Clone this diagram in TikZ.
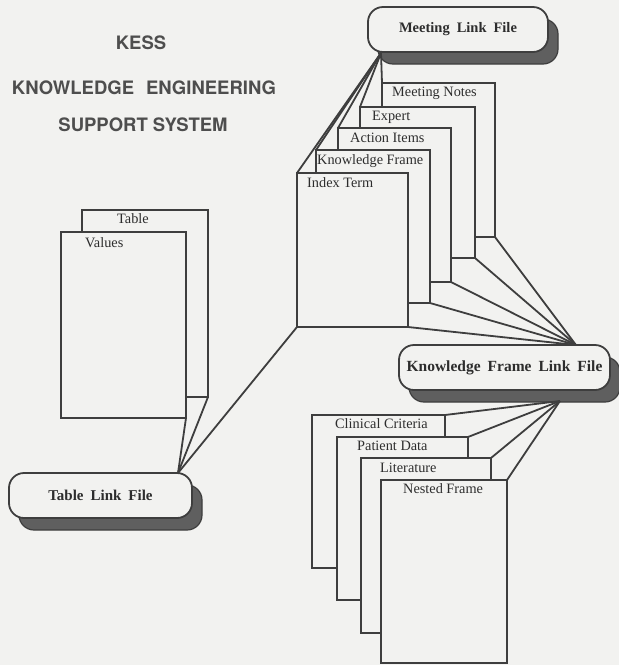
\documentclass[tikz,border=0pt]{standalone}
\usepackage{fontspec}
\setmainfont{Liberation Serif}
\newfontfamily\heros{TeX Gyre Heros}
\usetikzlibrary{shadows}
\definecolor{bg}{RGB}{242,242,240}
\definecolor{ink}{RGB}{62,62,62}
\definecolor{txt}{RGB}{45,45,45}
\definecolor{titlecol}{RGB}{78,78,78}
\definecolor{shade}{RGB}{95,95,95}
\begin{document}
\begin{tikzpicture}[x=1pt,y=-1pt,
  page/.style={draw=ink, fill=bg, line width=1.8pt, inner sep=0pt, outer sep=0pt, anchor=north west},
  plabel/.style={anchor=west, inner sep=0pt, text=txt, font=\fontsize{14.3}{16}\selectfont},
  linkbox/.style={draw=ink, fill=bg, line width=1.8pt, rounded corners=15pt, inner sep=0pt, outer sep=0pt,
    text=txt, minimum height=45pt,
    drop shadow={shadow xshift=10pt, shadow yshift=-12pt, fill=shade, draw=ink, opacity=1, line width=1.2pt}},
  boxfont/.style={font={\bfseries\fontsize{#1}{18}\selectfont\spaceskip=7pt plus 1pt\relax}},
  conn/.style={draw=ink, line width=1.8pt},
  title/.style={text=titlecol, font=\heros\bfseries\fontsize{18.5}{20}\selectfont, inner sep=0pt}
]
\useasboundingbox (0,0) rectangle (619,665);
\fill[bg] (0,0) rectangle (619,665);

% title
\node[title] (t1) at (141,43) {KESS};
\node[title] (t2) at (144,88) {KNOWLEDGE\hspace{12pt}ENGINEERING};
\node[title] (t3) at (143,125) {SUPPORT SYSTEM};

% meeting stack
\node[page, minimum width=113pt, minimum height=154pt] (mn) at (382,83) {};
\node[page, minimum width=115pt, minimum height=151pt] (ex) at (360,107) {};
\node[page, minimum width=113pt, minimum height=154pt] (ai) at (338,128) {};
\node[page, minimum width=114pt, minimum height=153pt] (kf) at (316,150) {};
\node[page, minimum width=111pt, minimum height=154pt] (it) at (297,173) {};
\node[plabel] (lmn) at (392,93) {Meeting Notes};
\node[plabel] (lex) at (372,117) {Expert};
\node[plabel] (lai) at (350,138) {Action Items};
\node[plabel] (lkf) at (317,161) {Knowledge Frame};
\node[plabel] (lit) at (307,183) {Index Term};

% table stack
\node[page, minimum width=126pt, minimum height=187pt] (tb) at (82,210) {};
\node[page, minimum width=125pt, minimum height=186pt] (vl) at (61,232) {};
\node[plabel] (ltb) at (117,219) {Table};
\node[plabel] (lvl) at (85,243) {Values};

% knowledge frame stack
\node[page, minimum width=133pt, minimum height=153pt] (cc) at (312,415) {};
\node[page, minimum width=131pt, minimum height=163pt] (pd) at (337,437) {};
\node[page, minimum width=130pt, minimum height=175pt] (lt) at (361,458) {};
\node[page, minimum width=126pt, minimum height=183pt] (nf) at (381,480) {};
\node[plabel] (lcc) at (335,424) {Clinical Criteria};
\node[plabel] (lpd) at (357,446) {Patient Data};
\node[plabel] (llt) at (380,468) {Literature};
\node[plabel] (lnf) at (403,489) {Nested Frame};

% link boxes
\node[linkbox, boxfont=14.5, minimum width=180pt] (mlf) at (458,29.5) {Meeting Link File};
\node[linkbox, boxfont=15, minimum width=183pt] (tlf) at (100.5,495.5) {Table Link File};
\node[linkbox, boxfont=15.5, minimum width=211pt] (kflf) at (504.5,367.5) {Knowledge Frame Link File};

% apexes
\coordinate (ma) at (381,53);
\coordinate (ta) at (178,473);
\coordinate (ka) at (576,345);
\coordinate (kb) at (560,401);

% connectors
\foreach \p in {mn,ex,ai,kf,it} {
  \draw[conn] (ma) -- (\p.north west);
  \draw[conn] (ka) -- (\p.south east);
}
\draw[conn] (ta) -- (it.south west);
\draw[conn] (ta) -- (tb.south east);
\draw[conn] (ta) -- (vl.south east);
\foreach \p in {cc,pd,lt,nf} {
  \draw[conn] (kb) -- (\p.north east);
}
\end{tikzpicture}
\end{document}
